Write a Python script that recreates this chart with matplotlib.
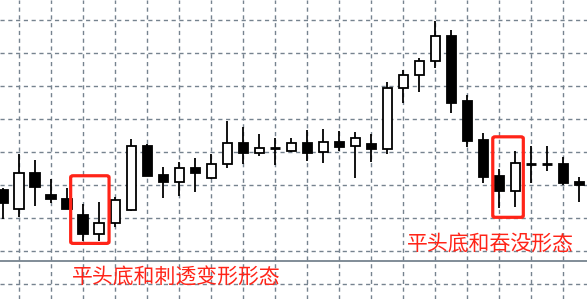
import numpy as np
import matplotlib
matplotlib.use('Agg')
import matplotlib.pyplot as plt
from matplotlib.patches import FancyBboxPatch

plt.rcParams['font.family'] = ['Noto Sans CJK SC', 'DejaVu Sans']

# OHLC values (arbitrary price units)
opens = [118.5, 112.6, 123.5, 117.0, 115.7, 110.9, 105.2, 108.4, 112.3, 131.8,
         123.0, 121.0, 125.1, 122.0, 126.3, 132.6, 129.6, 131.1, 130.4, 132.6,
         129.9, 132.9, 131.8, 132.4, 130.8, 149.3, 153.2, 157.5, 165.2, 145.5,
         133.6, 122.7, 118.3, 126.4, 126.4, 126.4, 120.8]
highs = [119.0, 129.4, 127.6, 121.7, 119.0, 114.2, 114.9, 116.5, 133.8, 132.4,
         125.5, 126.9, 128.1, 129.4, 139.4, 137.7, 135.5, 134.2, 134.3, 136.7,
         137.0, 136.4, 136.1, 135.5, 151.2, 154.8, 158.4, 169.8, 167.0, 147.2,
         135.8, 124.8, 130.3, 131.8, 131.8, 128.6, 122.5]
lows = [109.6, 110.2, 113.6, 114.5, 112.6, 103.1, 103.1, 107.4, 112.0, 122.8,
        116.2, 116.8, 118.0, 121.7, 125.1, 126.4, 128.8, 126.1, 130.1, 127.4,
        126.8, 130.4, 122.0, 127.1, 129.3, 144.9, 148.3, 155.4, 141.7, 131.4,
        120.5, 113.1, 113.4, 120.5, 124.3, 120.0, 114.9]
closes = [114.6, 123.5, 119.3, 115.7, 112.6, 105.1, 108.4, 115.5, 131.8, 122.8,
          121.0, 125.1, 123.5, 126.4, 132.6, 129.6, 131.1, 131.1, 132.6, 129.8,
          132.9, 131.4, 134.2, 130.8, 149.3, 153.2, 157.5, 165.2, 144.9, 133.4,
          122.5, 118.3, 126.6, 126.4, 126.4, 120.7, 120.0]

# highlighted patterns: (first index, last index, low price, high price)
box_ranges = [(4.21, 6.61, 102.3, 122.8), (30.59, 32.5, 110.2, 134.6)]
labels = ["平头底和刺透变形形态", "平头底和吞没形态"]
label_pos = [(4.3, 92.0), (25.25, 102.3)]

RED = '#ff2418'
GRID = '#76838f'

x = np.arange(len(opens))
o = np.array(opens); c = np.array(closes)

fig = plt.figure(figsize=(5.87, 2.99), dpi=100)
ax = fig.add_axes([0, 0, 1, 1])
ax.set_xlim(-0.206, 36.48)
ax.set_ylim(85.45, 176.06)

ax.set_xticks(np.arange(1, 37, 2))
ax.set_yticks(np.arange(90, 171, 10))
ax.grid(True, color=GRID, lw=1.0, linestyle=(0, (3, 2.6)))
ax.tick_params(length=0, labelbottom=False, labelleft=False)
for s in ax.spines.values():
    s.set_visible(False)

# separator line
ax.axhline(97.0, color=GRID, lw=1.3)

# wicks
ax.vlines(x, lows, highs, color='black', lw=1.3, zorder=3)

# bodies
up = c > o
flat = c == o
body_lo = np.minimum(o, c)
body_h = np.abs(c - o)
ax.bar(x[up], body_h[up], bottom=body_lo[up], width=0.6,
       facecolor='white', edgecolor='black', lw=1.3, zorder=4)
down = (~up) & (~flat)
ax.bar(x[down], body_h[down], bottom=body_lo[down], width=0.6,
       facecolor='black', edgecolor='black', lw=1.3, zorder=4)
ax.hlines(o[flat], x[flat] - 0.32, x[flat] + 0.32, color='black', lw=2.0, zorder=4)

# red boxes
for x0, x1, y0, y1 in box_ranges:
    ax.add_patch(FancyBboxPatch((x0, y0), x1 - x0, y1 - y0,
                                boxstyle='round,pad=0,rounding_size=0.15',
                                fill=False, edgecolor=RED, lw=2.3, zorder=5,
                                mutation_aspect=3.3))

for txt, (tx, ty) in zip(labels, label_pos):
    ax.text(tx, ty, txt, color=RED, fontsize=15, ha='left', va='center')

fig.savefig('out.png', dpi=100)
